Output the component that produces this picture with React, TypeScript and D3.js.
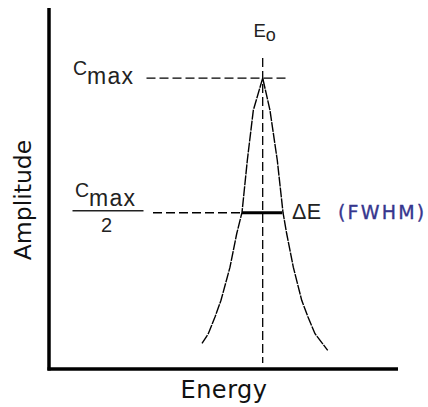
import * as d3 from "d3";

// peak: energy (arbitrary units) and amplitude (fraction of Cmax)
const energy = [43.84, 45.64, 47.56, 49.28, 51.86, 53.78, 55.3, 56.82, 58.54, 61.23, 63.32, 65.42, 67.05, 68.11, 70.0, 72.41, 74.21, 76.22, 79.86];
const amplitude = [0.015, 0.051, 0.113, 0.175, 0.298, 0.422, 0.501, 0.694, 0.88, 1.0, 0.88, 0.694, 0.501, 0.422, 0.298, 0.175, 0.113, 0.051, -0.011];

const E0 = 61.23;
const CMAX = 1.0;
const HALF = 0.5;
const FWHM_LEFT = 55.3;
const FWHM_RIGHT = 66.85;

const W = 428;
const H = 407;

const SANS = "'Liberation Sans', Arial, sans-serif";
const LABEL = "'DejaVu Sans', Verdana, sans-serif";

export default function App() {
  const x = d3.scaleLinear().domain([0, 100]).range([49, 398]);
  const y = d3.scaleLinear().domain([-0.08, 1.26]).range([369, 8]);

  const pts = energy.map((e, i) => [e, amplitude[i]] as [number, number]);
  const line = d3
    .line<[number, number]>()
    .x((d) => x(d[0]))
    .y((d) => y(d[1]))
    .curve(d3.curveLinear);

  const dash = "9 4";

  return (
    <svg
      width={W}
      height={H}
      style={{ position: "absolute", left: 0, top: 0, background: "#fff" }}
    >
      {/* axes */}
      <line x1={x(0)} x2={x(0)} y1={y(1.26)} y2={y(-0.08) + 1.5} stroke="#000" strokeWidth={3.5} />
      <line x1={x(0) - 1.5} x2={x(100)} y1={y(-0.08)} y2={y(-0.08)} stroke="#000" strokeWidth={3.5} />

      {/* guide lines */}
      <line x1={146.5} x2={x(E0) + 23} y1={y(CMAX)} y2={y(CMAX)} stroke="#000" strokeWidth={1.3} strokeDasharray={dash} />
      <line x1={153} x2={x(FWHM_LEFT)} y1={y(HALF)} y2={y(HALF)} stroke="#000" strokeWidth={1.3} strokeDasharray={dash} />
      <line x1={x(E0)} x2={x(E0)} y1={58} y2={363} stroke="#000" strokeWidth={1.3} strokeDasharray={dash} />

      {/* FWHM bar */}
      <line x1={x(FWHM_LEFT)} x2={x(FWHM_RIGHT)} y1={y(HALF)} y2={y(HALF)} stroke="#000" strokeWidth={3} />

      {/* peak */}
      <path d={line(pts) ?? ""} fill="none" stroke="#000" strokeWidth={1.4} strokeDasharray="10 1" />

      {/* E0 */}
      <text x={253.5} y={37} fontFamily={SANS} fontSize={18.5} fill="#222">
        E
        <tspan dy={3.5} fontSize={18}>o</tspan>
      </text>

      {/* Cmax */}
      <text x={73} y={75} fontFamily={SANS} fontSize={19.5} fill="#222">
        C
        <tspan dy={8.5} fontSize={23} letterSpacing={1.2}>max</tspan>
      </text>

      {/* Cmax / 2 */}
      <text x={75} y={197} fontFamily={SANS} fontSize={19.5} fill="#222">
        C
        <tspan dy={8.5} fontSize={23} letterSpacing={1.2}>max</tspan>
      </text>
      <line x1={72.5} x2={143.5} y1={210.8} y2={210.8} stroke="#222" strokeWidth={1.6} />
      <text x={106.5} y={232} fontFamily={SANS} fontSize={20} fill="#222" textAnchor="middle">
        2
      </text>

      {/* delta E */}
      <text x={292} y={218.5} fontFamily={SANS} fontSize={21.5} fill="#222" letterSpacing={0.5}>
        ΔE
      </text>
      <text
        x={338}
        y={218.5}
        fontFamily={LABEL}
        fontSize={19}
        fill="#36368e"
        stroke="#36368e"
        strokeWidth={0.35}
        letterSpacing={2.2}
      >
        (FWHM)
      </text>

      {/* axis titles */}
      <text x={224} y={398} fontFamily={LABEL} fontSize={24} fill="#111" textAnchor="middle" letterSpacing={0.5}>
        Energy
      </text>
      <text
        transform={`translate(31,200) rotate(-90)`}
        fontFamily={LABEL}
        fontSize={23.5}
        fill="#111"
        textAnchor="middle"
      >
        Amplitude
      </text>
    </svg>
  );
}
